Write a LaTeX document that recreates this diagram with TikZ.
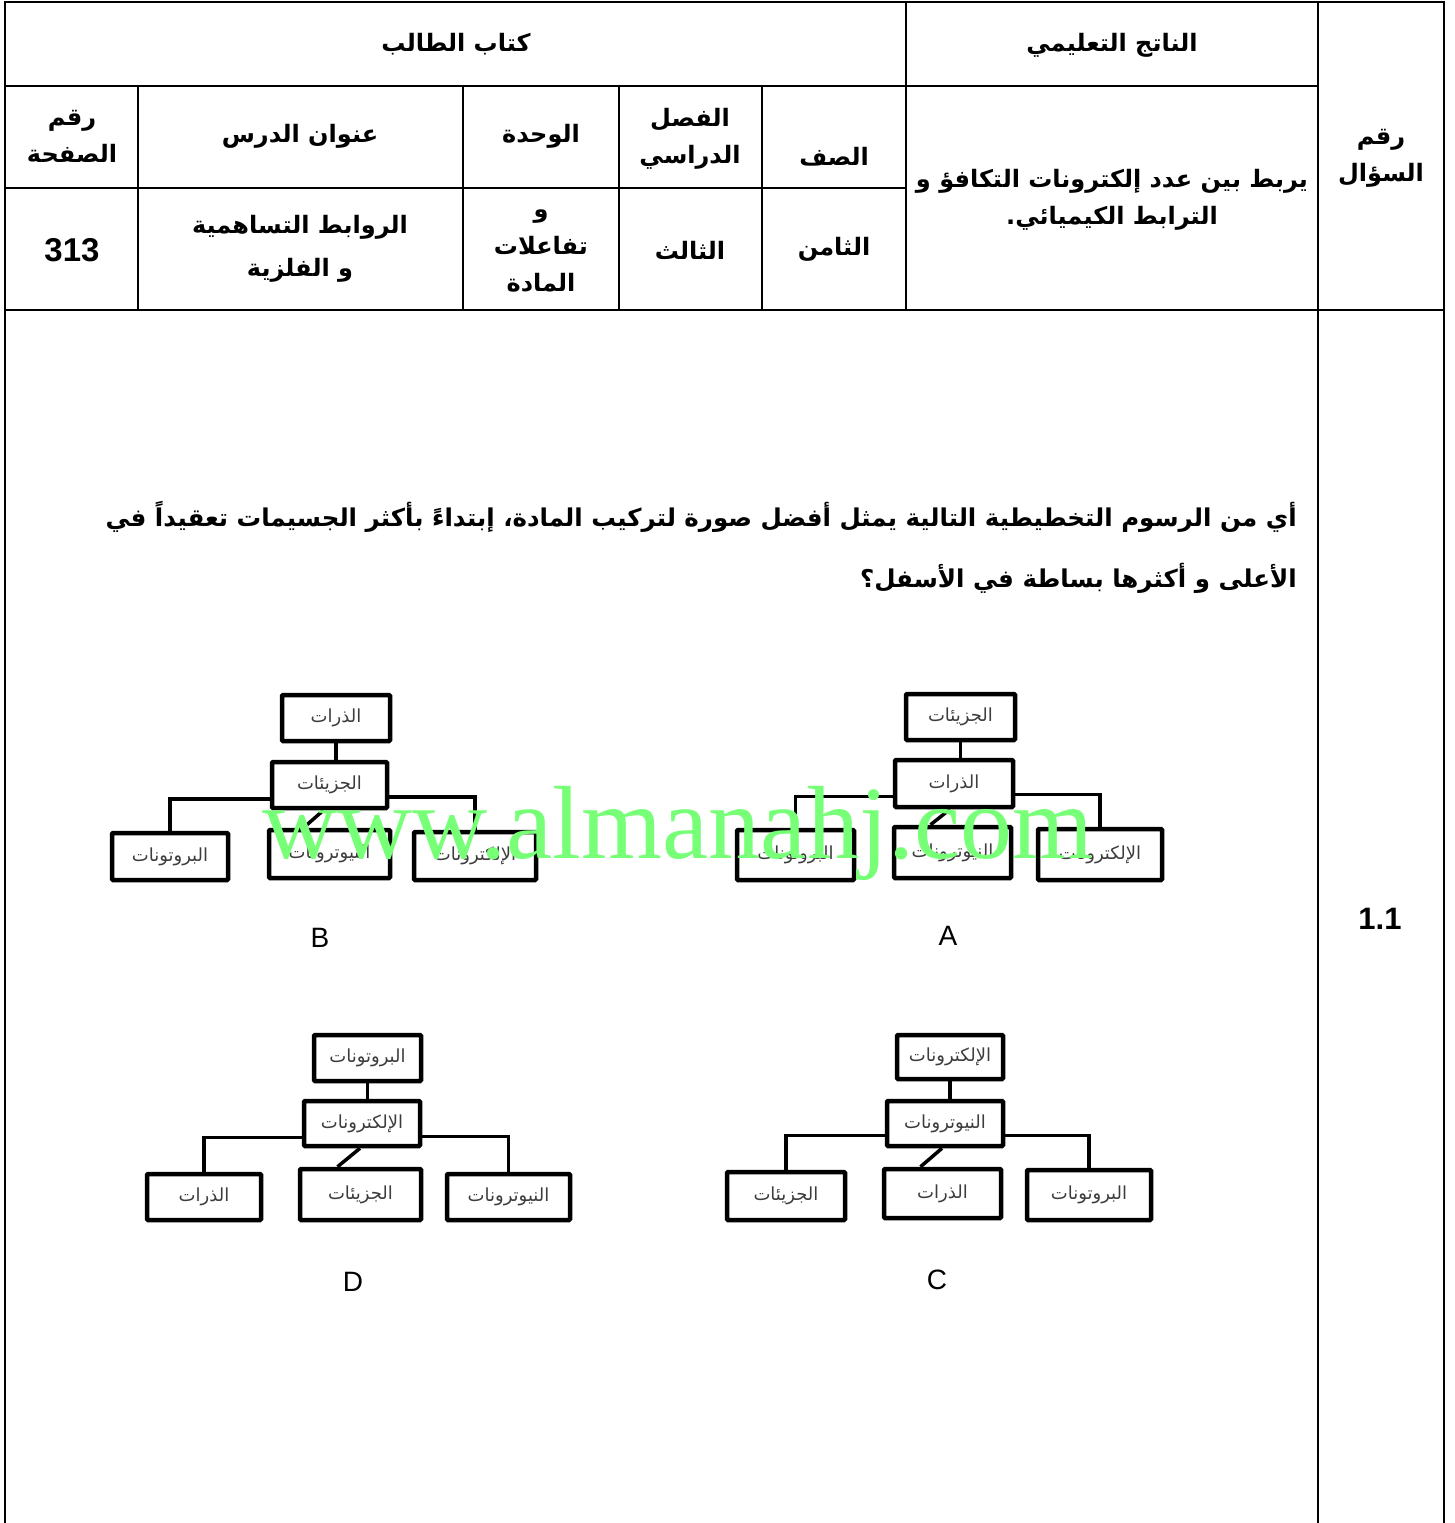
\documentclass[tikz,border=0pt]{standalone}
\usepackage{fontspec}
\setmainfont{Liberation Sans}
\newfontfamily\arfont[Script=Arabic]{DejaVu Sans}
\newfontfamily\wmfont{Liberation Serif}
\TeXXeTstate=1
\newcommand\myfs[2]{\fontsize{#1}{#2}\selectfont}
\definecolor{wmgreen}{RGB}{120,255,120}
\definecolor{boxtext}{RGB}{60,60,60}
\tikzset{
  grid/.style={line width=2.5pt, line cap=rect},
  hd/.style={font=\arfont\bfseries\myfs{24}{37}, align=center, inner sep=0pt},
  qt/.style={font=\arfont\bfseries\myfs{24.5}{37}, inner sep=0pt, anchor=east},
  num/.style={font=\bfseries\myfs{33}{37}, inner sep=0pt},
  bx/.style={draw, line width=4.5pt, rounded corners=1pt, inner sep=0pt,
     font=\arfont\myfs{18}{20}, text=boxtext},
  cn/.style={line width=3.5pt},
  lbl/.style={font=\myfs{28}{30}, inner sep=0pt},
}
\begin{document}
\begin{tikzpicture}[x=1pt,y=-1pt]
\useasboundingbox (0,0) rectangle (1454,1523);
% ---------- table ----------
\draw[grid] (5,2) -- (1444,2);
\draw[grid] (5,2) -- (5,1530);
\draw[grid] (1444,2) -- (1444,1530);
\draw[grid] (1318,2) -- (1318,1530);
\draw[grid] (5,86) -- (1318,86);
\draw[grid] (5,188) -- (906,188);
\draw[grid] (5,310) -- (1444,310);
\draw[grid] (906,2) -- (906,310);
\draw[grid] (138,86) -- (138,310);
\draw[grid] (463,86) -- (463,310);
\draw[grid] (619,86) -- (619,310);
\draw[grid] (762,86) -- (762,310);
% header texts
\node[hd] (kt) at (456,44) {\beginR كتاب الطالب\endR};
\node[hd] (nt) at (1112,45) {\beginR الناتج التعليمي\endR};
\node[hd] (rs) at (72,136) {\beginR رقم\endR\\\beginR الصفحة\endR};
\node[hd] (ad) at (300,136) {\beginR عنوان الدرس\endR};
\node[hd] (wh) at (541,136) {\beginR الوحدة\endR};
\node[hd] (fs) at (690,139) {\beginR الفصل\endR\\\beginR الدراسي\endR};
\node[hd] (sf) at (834,157) {\beginR الصف\endR};
\node[hd] (yr) at (1112,200) {\beginR يربط بين عدد إلكترونات التكافؤ و\endR\\\beginR الترابط الكيميائي.\endR};
\node[hd] (rq) at (1381,158) {\beginR رقم\endR\\\beginR السؤال\endR};
\node[num] (pg) at (72,250) {313};
\node[hd,font=\arfont\bfseries\myfs{24}{43}] (rw) at (300,249) {\beginR الروابط التساهمية\endR\\\beginR و الفلزية\endR};
\node[hd] (tm) at (541,251) {\beginR و\endR\\\beginR تفاعلات\endR\\\beginR المادة\endR};
\node[hd] (th) at (690,250) {\beginR الثالث\endR};
\node[hd] (tn) at (834,249) {\beginR الثامن\endR};
\node[num,font=\bfseries\myfs{31}{35}] (qn) at (1380,919) {1.1};
% question
\node[qt] (q1) at (1297,517) {\beginR أي من الرسوم التخطيطية التالية يمثل أفضل صورة لتركيب المادة، إبتداءً بأكثر الجسيمات تعقيداً في\endR};
\node[qt] (q2) at (1297,578) {\beginR الأعلى و أكثرها بساطة في الأسفل؟\endR};
% ---------- diagram B ----------
\node[bx, minimum width=108, minimum height=46] (bt) at (336,718) {\beginR الذرات\endR};
\node[bx, minimum width=115, minimum height=46] (bm) at (329.5,785) {\beginR الجزيئات\endR};
\node[bx, minimum width=116, minimum height=47] (bl) at (170,856.5) {\beginR البروتونات\endR};
\node[bx, minimum width=121, minimum height=48] (bc) at (329.5,854) {\beginR النيوترونات\endR};
\node[bx, minimum width=122, minimum height=48] (br) at (475,856) {\beginR الإلكترونات\endR};
\draw[cn] (bt.south) -- (bt.south |- bm.north);
\draw[cn] ([yshift=-14pt]bm.west) -| (bl.north);
\draw[cn] ([yshift=-12pt]bm.east) -| (br.north);
\draw[cn] ([xshift=-6pt]bm.south) -- ([xshift=-26pt]bc.north);
\node[lbl] (lb) at (320,938) {B};
% ---------- diagram A ----------
\node[bx, minimum width=109, minimum height=46] (at) at (960.5,717) {\beginR الجزيئات\endR};
\node[bx, minimum width=118, minimum height=47] (am) at (954,783.5) {\beginR الذرات\endR};
\node[bx, minimum width=117, minimum height=50] (al) at (795.5,855) {\beginR البروتونات\endR};
\node[bx, minimum width=117, minimum height=51] (ac) at (952.5,852.5) {\beginR النيوترونات\endR};
\node[bx, minimum width=124, minimum height=51] (ar) at (1100,854.5) {\beginR الإلكترونات\endR};
\draw[cn] (at.south) -- (at.south |- am.north);
\draw[cn] ([yshift=-13pt]am.west) -| (al.north);
\draw[cn] ([yshift=-11pt]am.east) -| (ar.north);
\draw[cn] ([xshift=-4pt]am.south) -- ([xshift=-22pt]ac.north);
\node[lbl] (la) at (948,936) {A};
% ---------- diagram D ----------
\node[bx, minimum width=107, minimum height=46] (dt) at (367.5,1058) {\beginR البروتونات\endR};
\node[bx, minimum width=116, minimum height=45] (dm) at (362,1123.5) {\beginR الإلكترونات\endR};
\node[bx, minimum width=114, minimum height=46] (dl) at (204,1197) {\beginR الذرات\endR};
\node[bx, minimum width=121, minimum height=51] (dc) at (360.5,1194.5) {\beginR الجزيئات\endR};
\node[bx, minimum width=123, minimum height=46] (dr) at (508.5,1197) {\beginR النيوترونات\endR};
\draw[cn] (dt.south) -- (dt.south |- dm.north);
\draw[cn] ([yshift=-14pt]dm.west) -| (dl.north);
\draw[cn] ([yshift=-13pt]dm.east) -| (dr.north);
\draw[cn] ([xshift=-2pt]dm.south) -- ([xshift=-23pt]dc.north);
\node[lbl] (ld) at (353,1282) {D};
% ---------- diagram C ----------
\node[bx, minimum width=106, minimum height=44] (ct) at (950,1057) {\beginR الإلكترونات\endR};
\node[bx, minimum width=116, minimum height=45] (cm) at (945,1123.5) {\beginR النيوترونات\endR};
\node[bx, minimum width=118, minimum height=48] (cl) at (786,1196) {\beginR الجزيئات\endR};
\node[bx, minimum width=117, minimum height=49] (cc) at (942.5,1193.5) {\beginR الذرات\endR};
\node[bx, minimum width=124, minimum height=50] (cr) at (1089,1195) {\beginR البروتونات\endR};
\draw[cn] (ct.south) -- (ct.south |- cm.north);
\draw[cn] ([yshift=-12pt]cm.west) -| (cl.north);
\draw[cn] ([yshift=-12pt]cm.east) -| (cr.north);
\draw[cn] ([xshift=-3pt]cm.south) -- ([xshift=-22pt]cc.north);
\node[lbl] (lc) at (937,1280) {C};
% ---------- watermark ----------
\node[anchor=base west, inner sep=0pt, text=wmgreen, font=\wmfont\myfs{104}{110}] (wm) at (262,858) {www.almanahj.com};
\end{tikzpicture}
\end{document}
